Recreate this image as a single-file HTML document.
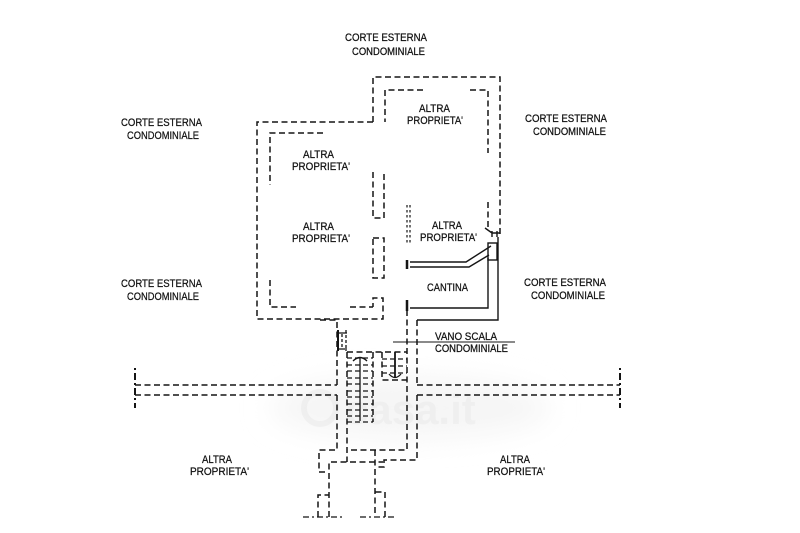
<!DOCTYPE html>
<html><head><meta charset="utf-8"><style>
html,body{margin:0;padding:0;background:#fff;}
svg{display:block;}
text{font-family:"Liberation Sans",Arial,sans-serif;font-size:11px;fill:#111;stroke:#111;stroke-width:0.25;}
</style></head><body>
<svg width="800" height="533" viewBox="0 0 800 533" xmlns="http://www.w3.org/2000/svg">
<defs><filter id="bl" x="-50%" y="-50%" width="200%" height="200%"><feGaussianBlur stdDeviation="14"/></filter></defs>
<rect width="800" height="533" fill="#fff"/>
<!-- watermark -->
<ellipse cx="410" cy="408" rx="140" ry="30" fill="#f5f5f5" filter="url(#bl)"/>
<g opacity="0.35">
<circle cx="320" cy="408" r="16" fill="none" stroke="#e2e2e2" stroke-width="6"/>
<text x="345" y="424" style="font-size:42px;font-weight:bold;fill:#e4e4e4;stroke:none">casa.it</text>
</g>

<g fill="none" stroke="#151515" stroke-width="1.5" stroke-dasharray="6 3.5">
<!-- left building outer -->
<path d="M373,122 H257 V319 H383 V298 H373 V307"/>
<!-- left inner -->
<path d="M323,133 H270 V185"/>
<path d="M270,280 V307 H296"/>
<path d="M350,307 H373"/>
<!-- partitions -->
<path d="M373,172 V218 H384 V172"/>
<rect x="373" y="238" width="11" height="40"/>
<!-- right building -->
<path d="M373,122 V77 H500 V236"/>
<path d="M423,90 H385 V122"/>
<path d="M470,90 H488 V153"/>
<path d="M488,202 V230"/>
<!-- stair hall walls -->
<path d="M320,320 H337 V385"/>
<path d="M337,395 V450 H319 V472 H325"/>
<path d="M407,310 V450 H347"/>
<path d="M417,320 V385"/>
<path d="M417,395 V460 H384 V467 H375"/>
<path d="M347,352 V462"/>
<path d="M329,517 V462 H383"/>
<path d="M375,450 V517"/>
<path d="M318,517 V495 H329"/>
<path d="M385,517 V492 H375"/>
<!-- flights -->
<path d="M347,352 H407"/>
<path d="M373,352 V422"/>
<path d="M382,352 V380 H407"/>
<!-- corridor -->
<path d="M135,385 H337 M135,395 H337"/>
<path d="M417,385 H620 M417,395 H620"/>
</g>

<!-- treads -->
<g fill="none" stroke="#151515" stroke-width="1.2" stroke-dasharray="5 3">
<path d="M347,358 H373 M347,365 H373 M347,371 H373 M347,378 H373 M347,384 H373 M347,391 H373 M347,397 H373 M347,404 H373 M347,410 H373 M347,416 H373 M347,422 H373"/>
<path d="M382,359 H407 M382,366 H407 M382,373 H407"/>
</g>
<!-- stair arrows -->
<g fill="none" stroke="#151515" stroke-width="1.3">
<path d="M360,358 V421"/>
<path d="M353,361 Q360,354 367,361"/>
<path d="M395,352 V378" stroke-width="1.8"/>
<path d="M389,374 Q395,381 401,374"/>
<!-- little door at stair entry -->
<path d="M338,330 V351" stroke-width="2"/>
<path d="M337,333 H347 M337,349 H347"/>
<path d="M342,334 V348 M346,330 V351" stroke-dasharray="3 2"/>
</g>

<!-- small double dotted -->
<g fill="none" stroke="#151515" stroke-width="1.2" stroke-dasharray="2.5 2.5">
<path d="M407,205 V243 M410,205 V243"/>
</g>

<!-- cantina solid walls -->
<g fill="none" stroke="#151515" stroke-width="1.4">
<path d="M410,262 H466 L491,246"/>
<path d="M410,267 H469 L489,255"/>
<path d="M407,260 V269" stroke-width="2.5"/>
<path d="M407,300 V311" stroke-width="2.5"/>
<rect x="488" y="243" width="9" height="17"/>
<path d="M488,258 V308 H410"/>
<path d="M498,237 V320 H417"/>
<path d="M485,228 L492,233 H500 M492,231 V237 M497,231 V237"/>
<path d="M393,342 H515" stroke-width="1.1"/>
</g>

<!-- corridor end marks -->
<g fill="none" stroke="#151515" stroke-width="2" stroke-dasharray="2 3 7 3">
<path d="M135,368 V408"/>
<path d="M620,368 V408"/>
</g>
<!-- bottom dash-dot -->
<g fill="none" stroke="#151515" stroke-width="1.3" stroke-dasharray="6 3 2 3">
<path d="M303,517 H342"/>
<path d="M360,517 H397"/>
</g>

<!-- labels -->
<text x="345" y="41" textLength="82" lengthAdjust="spacingAndGlyphs">CORTE ESTERNA</text>
<text x="352" y="55" textLength="73" lengthAdjust="spacingAndGlyphs">CONDOMINIALE</text>

<text x="121" y="126" textLength="81" lengthAdjust="spacingAndGlyphs">CORTE ESTERNA</text>
<text x="127" y="139" textLength="72" lengthAdjust="spacingAndGlyphs">CONDOMINIALE</text>

<text x="525" y="122" textLength="82" lengthAdjust="spacingAndGlyphs">CORTE ESTERNA</text>
<text x="533" y="135" textLength="73" lengthAdjust="spacingAndGlyphs">CONDOMINIALE</text>

<text x="121" y="287" textLength="81" lengthAdjust="spacingAndGlyphs">CORTE ESTERNA</text>
<text x="127" y="300" textLength="72" lengthAdjust="spacingAndGlyphs">CONDOMINIALE</text>

<text x="524" y="286" textLength="82" lengthAdjust="spacingAndGlyphs">CORTE ESTERNA</text>
<text x="531" y="299" textLength="74" lengthAdjust="spacingAndGlyphs">CONDOMINIALE</text>

<text x="419" y="112" textLength="31" lengthAdjust="spacingAndGlyphs">ALTRA</text>
<text x="407" y="124" textLength="56" lengthAdjust="spacingAndGlyphs">PROPRIETA'</text>

<text x="303" y="158" textLength="31" lengthAdjust="spacingAndGlyphs">ALTRA</text>
<text x="292" y="170" textLength="58" lengthAdjust="spacingAndGlyphs">PROPRIETA'</text>

<text x="303" y="230" textLength="31" lengthAdjust="spacingAndGlyphs">ALTRA</text>
<text x="292" y="242" textLength="58" lengthAdjust="spacingAndGlyphs">PROPRIETA'</text>

<text x="432" y="229" textLength="30" lengthAdjust="spacingAndGlyphs">ALTRA</text>
<text x="420" y="241" textLength="57" lengthAdjust="spacingAndGlyphs">PROPRIETA'</text>

<text x="427" y="291" textLength="41" lengthAdjust="spacingAndGlyphs">CANTINA</text>

<text x="435" y="340" textLength="62" lengthAdjust="spacingAndGlyphs">VANO SCALA</text>
<text x="435" y="352" textLength="73" lengthAdjust="spacingAndGlyphs">CONDOMINIALE</text>

<text x="202" y="463" textLength="30" lengthAdjust="spacingAndGlyphs">ALTRA</text>
<text x="190" y="475" textLength="59" lengthAdjust="spacingAndGlyphs">PROPRIETA'</text>

<text x="500" y="463" textLength="30" lengthAdjust="spacingAndGlyphs">ALTRA</text>
<text x="487" y="475" textLength="58" lengthAdjust="spacingAndGlyphs">PROPRIETA'</text>
</svg>
</body></html>
